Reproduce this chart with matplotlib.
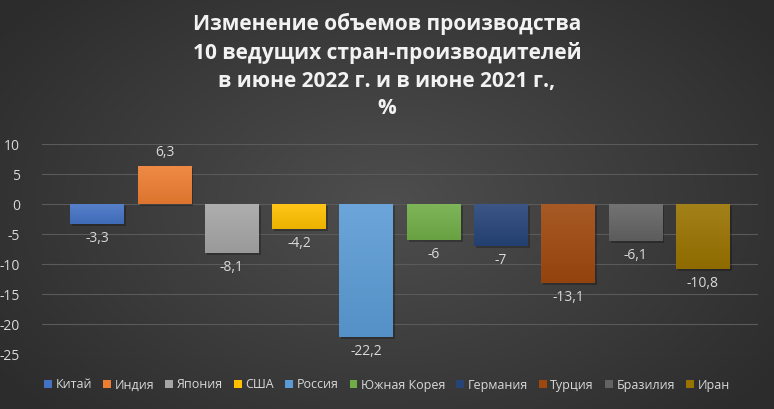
import numpy as np
import matplotlib
matplotlib.use('Agg')
from matplotlib import pyplot as plt
from matplotlib.colors import LinearSegmentedColormap, to_rgb
from matplotlib.patches import Patch

plt.rcParams['font.family'] = ['Open Sans', 'DejaVu Sans']

countries = ['Китай', 'Индия', 'Япония', 'США', 'Россия', 'Южная Корея',
             'Германия', 'Турция', 'Бразилия', 'Иран']
values = [-3.3, 6.3, -8.1, -4.2, -22.2, -6.0, -7.0, -13.1, -6.1, -10.8]
labels = ['-3,3', '6,3', '-8,1', '-4,2', '-22,2', '-6', '-7', '-13,1', '-6,1', '-10,8']
colors = ['#4472C4', '#ED7D31', '#A5A5A5', '#FFC000', '#5B9BD5', '#70AD47',
          '#264478', '#9E480E', '#636363', '#997300']
yticks = [10, 5, 0, -5, -10, -15, -20, -25]

W, H = 774, 409
fig = plt.figure(figsize=(W / 100, H / 100), dpi=100)

# radial background
bg = fig.add_axes([0, 0, 1, 1])
yy, xx = np.mgrid[0:1:200j, 0:1:400j]
r = np.sqrt(((xx - 0.5) / 0.62) ** 2 + ((yy - 0.5) / 0.75) ** 2)
r = np.clip(r, 0, 1)
bgmap = LinearSegmentedColormap.from_list('bg', ['#4e4e4e', '#2c2c2c'])
bg.imshow(r, cmap=bgmap, aspect='auto', extent=[0, 1, 0, 1], vmin=0, vmax=1)
bg.axis('off')

ax = fig.add_axes([42 / W, 1 - 354 / H, (758 - 42) / W, 210 / H])
ax.set_facecolor('none')
x = np.arange(len(countries))
bars = ax.bar(x, values, width=0.8, color=colors, zorder=3)

# vertical gradient inside each bar
for b, c in zip(bars, colors):
    rgb = np.array(to_rgb(c))
    light = 1 - (1 - rgb) * 0.9
    dark = rgb * 0.93
    grad = np.linspace(0, 1, 64)[:, None, None]
    img = light * (1 - grad) + dark * grad
    x0, y0 = b.get_x(), b.get_y()
    w, h = b.get_width(), b.get_height()
    top, bot = max(y0, y0 + h), min(y0, y0 + h)
    im = ax.imshow(img, extent=[x0, x0 + w, bot, top], aspect='auto', zorder=4)
    im.set_clip_path(b)
    # soft shadow
    ax.bar(x0 + w / 2 + 0.03, h, width=w, bottom=y0 - 0.35, color='black',
           alpha=0.25, zorder=2)

for xi, v, lab in zip(x, values, labels):
    if v >= 0:
        ax.text(xi, v + 1.0, lab, ha='center', va='bottom', color='#d9d9d9', fontsize=10)
    else:
        ax.text(xi, v - 1.2, lab, ha='center', va='top', color='#d9d9d9', fontsize=10)

ax.set_xlim(-0.82, 9.82)
ax.set_ylim(-25, 10)
ax.set_yticks(yticks)
ax.set_yticklabels([str(t) for t in yticks], color='#d9d9d9', fontsize=10)
ax.set_xticks([])
ax.grid(axis='y', color='#5a5a5a', linewidth=0.8, zorder=0)
ax.tick_params(axis='y', length=0, pad=16)
for s in ax.spines.values():
    s.set_visible(False)

fig.text(0.5, 1 - 66 / H, 'Изменение объемов производства\n10 ведущих стран-производителей\nв июне 2022 г. и в июне 2021 г.,\n%',
         ha='center', va='center', color='#f2f2f2', fontsize=15, fontweight='bold',
         linespacing=1.42)

handles = [Patch(facecolor=c, edgecolor='none') for c in colors]
leg = fig.legend(handles, countries, loc='center', bbox_to_anchor=(0.5, 1 - 385 / H),
                 ncol=10, frameon=False, fontsize=9, handlelength=0.6, handleheight=0.6,
                 handletextpad=0.3, columnspacing=0.9, labelcolor='#d9d9d9')

fig.savefig('out.png', dpi=100)
